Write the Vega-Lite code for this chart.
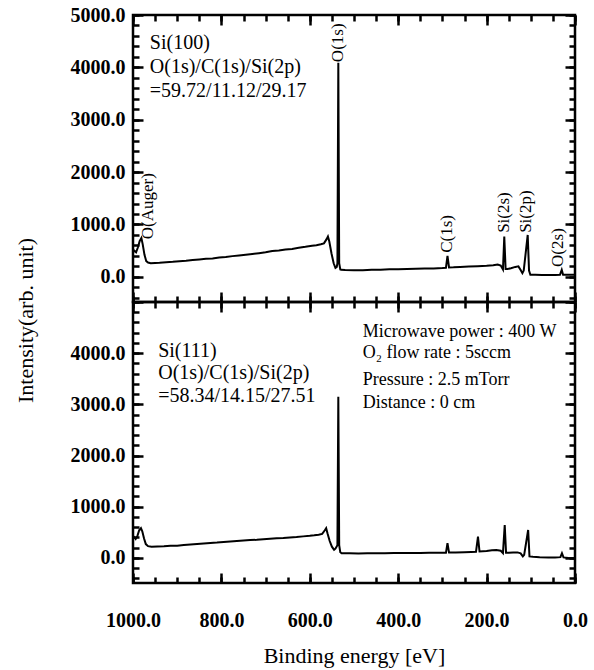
{
  "$schema": "https://vega.github.io/schema/vega-lite/v6.json",
  "background": "white",
  "padding": {"left": 12, "top": 3, "right": 10, "bottom": 5},
  "bounds": "flush",
  "spacing": 0,
  "config": {
    "font": "Liberation Serif",
    "view": {"stroke": "black", "strokeWidth": 2.5},
    "axis": {
      "grid": false,
      "domain": false,
      "zindex": 1,
      "labelColor": "black",
      "titleColor": "black",
      "labelFontSize": 20,
      "labelFontWeight": "bold",
      "titleFontSize": 22,
      "titleFontWeight": "normal",
      "labelFlush": false,
      "labelOverlap": false,
      "labelBound": false
    }
  },
  "datasets": {
    "si100": [
      {"E": 1000, "I": 470}, {"E": 997, "I": 500}, {"E": 993, "I": 470}, {"E": 989, "I": 560},
      {"E": 985, "I": 680}, {"E": 981, "I": 740}, {"E": 978, "I": 620}, {"E": 974, "I": 420},
      {"E": 970, "I": 300}, {"E": 966, "I": 275}, {"E": 960, "I": 262}, {"E": 950, "I": 266},
      {"E": 940, "I": 270}, {"E": 925, "I": 280}, {"E": 910, "I": 288}, {"E": 895, "I": 300},
      {"E": 880, "I": 308}, {"E": 865, "I": 322}, {"E": 850, "I": 333}, {"E": 835, "I": 346},
      {"E": 820, "I": 352}, {"E": 805, "I": 369}, {"E": 790, "I": 378}, {"E": 775, "I": 396},
      {"E": 760, "I": 408}, {"E": 745, "I": 422}, {"E": 730, "I": 438}, {"E": 715, "I": 453},
      {"E": 700, "I": 468}, {"E": 685, "I": 492}, {"E": 670, "I": 503}, {"E": 655, "I": 522},
      {"E": 640, "I": 533}, {"E": 625, "I": 556}, {"E": 610, "I": 574}, {"E": 595, "I": 596},
      {"E": 585, "I": 603}, {"E": 575, "I": 622}, {"E": 568, "I": 640}, {"E": 562, "I": 720},
      {"E": 559, "I": 770}, {"E": 556, "I": 680}, {"E": 551, "I": 450}, {"E": 546, "I": 260},
      {"E": 542, "I": 170}, {"E": 539, "I": 190}, {"E": 537.5, "I": 260}, {"E": 535.5, "I": 4090},
      {"E": 533.5, "I": 260}, {"E": 531, "I": 140}, {"E": 529, "I": 134}, {"E": 520, "I": 130},
      {"E": 500, "I": 126}, {"E": 480, "I": 128}, {"E": 460, "I": 135}, {"E": 440, "I": 137},
      {"E": 420, "I": 143}, {"E": 400, "I": 145}, {"E": 380, "I": 150}, {"E": 360, "I": 153},
      {"E": 340, "I": 158}, {"E": 320, "I": 162}, {"E": 300, "I": 168}, {"E": 292, "I": 172},
      {"E": 288.5, "I": 400}, {"E": 285, "I": 180}, {"E": 275, "I": 182}, {"E": 260, "I": 188},
      {"E": 240, "I": 196}, {"E": 220, "I": 204}, {"E": 200, "I": 212}, {"E": 185, "I": 222},
      {"E": 175, "I": 235}, {"E": 168, "I": 215}, {"E": 163, "I": 140}, {"E": 160, "I": 770},
      {"E": 157, "I": 150}, {"E": 153, "I": 150}, {"E": 145, "I": 165}, {"E": 135, "I": 190},
      {"E": 128, "I": 200}, {"E": 123, "I": 130}, {"E": 119, "I": 70}, {"E": 116, "I": 120},
      {"E": 107, "I": 800}, {"E": 104, "I": 120}, {"E": 101, "I": 40}, {"E": 90, "I": 38},
      {"E": 75, "I": 35}, {"E": 60, "I": 34}, {"E": 45, "I": 36}, {"E": 34, "I": 40},
      {"E": 30, "I": 134}, {"E": 27, "I": 40}, {"E": 15, "I": 38}, {"E": 0, "I": 38}
    ],
    "si111": [
      {"E": 1000, "I": 430}, {"E": 997, "I": 400}, {"E": 994, "I": 370}, {"E": 990, "I": 430},
      {"E": 986, "I": 540}, {"E": 982, "I": 580}, {"E": 979, "I": 520}, {"E": 975, "I": 380},
      {"E": 971, "I": 270}, {"E": 966, "I": 230}, {"E": 958, "I": 220}, {"E": 945, "I": 223},
      {"E": 930, "I": 227}, {"E": 915, "I": 236}, {"E": 900, "I": 240}, {"E": 885, "I": 251},
      {"E": 870, "I": 261}, {"E": 855, "I": 271}, {"E": 840, "I": 281}, {"E": 825, "I": 291},
      {"E": 810, "I": 299}, {"E": 795, "I": 311}, {"E": 780, "I": 321}, {"E": 765, "I": 331},
      {"E": 750, "I": 339}, {"E": 735, "I": 349}, {"E": 720, "I": 354}, {"E": 705, "I": 366},
      {"E": 690, "I": 374}, {"E": 675, "I": 384}, {"E": 660, "I": 391}, {"E": 645, "I": 401},
      {"E": 630, "I": 409}, {"E": 615, "I": 421}, {"E": 600, "I": 431}, {"E": 590, "I": 441},
      {"E": 580, "I": 454}, {"E": 572, "I": 470}, {"E": 566, "I": 540}, {"E": 563, "I": 580},
      {"E": 560, "I": 480}, {"E": 555, "I": 330}, {"E": 550, "I": 220}, {"E": 545, "I": 160},
      {"E": 542, "I": 180}, {"E": 537.5, "I": 250}, {"E": 535.5, "I": 3150}, {"E": 533.5, "I": 250},
      {"E": 531, "I": 110}, {"E": 528, "I": 91}, {"E": 510, "I": 90}, {"E": 490, "I": 88},
      {"E": 470, "I": 90}, {"E": 450, "I": 92}, {"E": 430, "I": 93}, {"E": 410, "I": 95},
      {"E": 390, "I": 95}, {"E": 370, "I": 97}, {"E": 350, "I": 98}, {"E": 330, "I": 100},
      {"E": 310, "I": 100}, {"E": 292, "I": 100}, {"E": 288.5, "I": 290}, {"E": 285, "I": 105},
      {"E": 270, "I": 106}, {"E": 250, "I": 110}, {"E": 235, "I": 115}, {"E": 224, "I": 120},
      {"E": 219.5, "I": 416}, {"E": 216, "I": 125}, {"E": 200, "I": 135}, {"E": 188, "I": 150},
      {"E": 178, "I": 155}, {"E": 168, "I": 140}, {"E": 163, "I": 95}, {"E": 159, "I": 644},
      {"E": 156, "I": 100}, {"E": 150, "I": 100}, {"E": 140, "I": 104}, {"E": 130, "I": 108},
      {"E": 123, "I": 90}, {"E": 118, "I": 30}, {"E": 115, "I": 60}, {"E": 106, "I": 546},
      {"E": 103, "I": 30}, {"E": 95, "I": 22}, {"E": 80, "I": 15}, {"E": 60, "I": 10},
      {"E": 45, "I": 8}, {"E": 33, "I": 15}, {"E": 29.5, "I": 91}, {"E": 26, "I": 10},
      {"E": 15, "I": 0}, {"E": 0, "I": -10}
    ],
    "peaks100": [
      {"E": 967, "I": 720, "label": "O(Auger)"},
      {"E": 536, "I": 4100, "label": "O(1s)"},
      {"E": 290, "I": 460, "label": "C(1s)"},
      {"E": 161, "I": 840, "label": "Si(2s)"},
      {"E": 111, "I": 840, "label": "Si(2p)"},
      {"E": 38, "I": 190, "label": "O(2s)"}
    ],
    "notes": [
      {"block": "a", "E": 962, "I": 4660, "text": "Si(100)\nO(1s)/C(1s)/Si(2p)\n=59.72/11.12/29.17"},
      {"block": "b", "E": 943, "I": 4240, "text": "Si(111)\nO(1s)/C(1s)/Si(2p)\n=58.34/14.15/27.51"},
      {"block": "c", "E": 480, "I": 4590, "text": "Microwave power : 400 W\nO₂ flow rate : 5sccm"},
      {"block": "d", "E": 480, "I": 3652, "text": "Pressure : 2.5 mTorr\nDistance : 0 cm"}
    ]
  },
  "vconcat": [
    {
      "width": 442,
      "height": 287,
      "layer": [
        {
          "data": {"name": "si100"},
          "mark": {"type": "line", "color": "black", "strokeWidth": 2},
          "encoding": {
            "x": {
              "field": "E", "type": "quantitative",
              "scale": {"domain": [0, 1000], "reverse": true, "nice": false, "zero": false},
              "axis": {"orient": "bottom", "title": null, "labels": false, "offset": -6, "tickSize": 6, "tickColor": "black", "tickWidth": 2.5, "tickCount": 25}
            },
            "y": {
              "field": "I", "type": "quantitative",
              "scale": {"domain": [-480, 5000], "nice": false, "zero": false},
              "axis": {
                "orient": "left", "title": null, "offset": -6, "tickSize": 6, "tickColor": "black", "tickWidth": 2.5, "labelPadding": 8, "tickCount": 27,
                "labelExpr": "datum.value % 1000 === 0 && datum.value >= 0 ? format(datum.value, '.1f') : ''"
              }
            }
          }
        },
        {
          "data": {"name": "peaks100"},
          "transform": [{"filter": "datum.E > 200"}],
          "mark": {"type": "text", "angle": 270, "align": "left", "baseline": "middle", "fontSize": 17, "color": "black"},
          "encoding": {
            "x": {
              "field": "E", "type": "quantitative",
              "scale": {"domain": [0, 1000], "reverse": true, "nice": false, "zero": false},
              "axis": {"orient": "top", "title": null, "labels": false, "offset": -6, "tickSize": 6, "tickColor": "black", "tickWidth": 2.5, "tickCount": 25}
            },
            "y": {
              "field": "I", "type": "quantitative",
              "scale": {"domain": [-480, 5000], "nice": false, "zero": false},
              "axis": {"orient": "right", "title": null, "labels": false, "offset": -6, "tickSize": 6, "tickColor": "black", "tickWidth": 2.5, "tickCount": 27}
            },
            "text": {"field": "label"}
          }
        },
        {
          "data": {"name": "peaks100"},
          "transform": [{"filter": "datum.E <= 200"}],
          "mark": {"type": "text", "angle": 270, "align": "left", "baseline": "middle", "fontSize": 17, "color": "black"},
          "encoding": {
            "x": {
              "field": "E", "type": "quantitative",
              "scale": {"domain": [0, 1000], "reverse": true, "nice": false, "zero": false},
              "axis": {"orient": "bottom", "title": null, "labels": false, "offset": -10, "tickSize": 10, "tickColor": "black", "tickWidth": 2.5, "tickCount": 5}
            },
            "y": {
              "field": "I", "type": "quantitative",
              "scale": {"domain": [-480, 5000], "nice": false, "zero": false},
              "axis": {"orient": "left", "title": null, "labels": false, "offset": -10, "tickSize": 10, "tickColor": "black", "tickWidth": 2.5, "tickCount": 5}
            },
            "text": {"field": "label"}
          }
        },
        {
          "data": {"name": "notes"},
          "transform": [{"filter": "datum.block === 'a'"}],
          "mark": {"type": "text", "align": "left", "baseline": "top", "fontSize": 20, "lineHeight": 24, "lineBreak": "\n", "color": "black"},
          "encoding": {
            "x": {
              "field": "E", "type": "quantitative",
              "scale": {"domain": [0, 1000], "reverse": true, "nice": false, "zero": false},
              "axis": {"orient": "top", "title": null, "labels": false, "offset": -10, "tickSize": 10, "tickColor": "black", "tickWidth": 2.5, "tickCount": 5}
            },
            "y": {
              "field": "I", "type": "quantitative",
              "scale": {"domain": [-480, 5000], "nice": false, "zero": false},
              "axis": {"orient": "right", "title": null, "labels": false, "offset": -10, "tickSize": 10, "tickColor": "black", "tickWidth": 2.5, "tickCount": 5}
            },
            "text": {"field": "text"}
          }
        }
      ],
      "resolve": {"axis": {"x": "independent", "y": "independent"}}
    },
    {
      "width": 442,
      "height": 281,
      "layer": [
        {
          "data": {"name": "si111"},
          "mark": {"type": "line", "color": "black", "strokeWidth": 2},
          "encoding": {
            "x": {
              "field": "E", "type": "quantitative",
              "scale": {"domain": [0, 1000], "reverse": true, "nice": false, "zero": false},
              "axis": {
                "orient": "bottom", "title": "Binding energy [eV]", "offset": -6, "tickSize": 6, "tickColor": "black", "tickWidth": 2.5, "tickCount": 25,
                "labelPadding": 27, "titlePadding": 15,
                "labelExpr": "datum.value % 200 === 0 ? format(datum.value, '.1f') : ''"
              }
            },
            "y": {
              "field": "I", "type": "quantitative",
              "scale": {"domain": [-490, 5000], "nice": false, "zero": false},
              "axis": {
                "orient": "left", "title": "Intensity(arb. unit)", "titleY": 18, "titlePadding": 33,
                "offset": -6, "tickSize": 6, "tickColor": "black", "tickWidth": 2.5, "labelPadding": 8, "tickCount": 27,
                "labelExpr": "datum.value % 1000 === 0 && datum.value >= 0 && datum.value < 5000 ? format(datum.value, '.1f') : ''"
              }
            }
          }
        },
        {
          "data": {"name": "notes"},
          "transform": [{"filter": "datum.block === 'b'"}],
          "mark": {"type": "text", "align": "left", "baseline": "top", "fontSize": 20, "lineHeight": 22.5, "lineBreak": "\n", "color": "black"},
          "encoding": {
            "x": {
              "field": "E", "type": "quantitative",
              "scale": {"domain": [0, 1000], "reverse": true, "nice": false, "zero": false},
              "axis": {"orient": "top", "title": null, "labels": false, "offset": -6, "tickSize": 6, "tickColor": "black", "tickWidth": 2.5, "tickCount": 25}
            },
            "y": {
              "field": "I", "type": "quantitative",
              "scale": {"domain": [-490, 5000], "nice": false, "zero": false},
              "axis": {"orient": "right", "title": null, "labels": false, "offset": -6, "tickSize": 6, "tickColor": "black", "tickWidth": 2.5, "tickCount": 27}
            },
            "text": {"field": "text"}
          }
        },
        {
          "data": {"name": "notes"},
          "transform": [{"filter": "datum.block === 'c'"}],
          "mark": {"type": "text", "align": "left", "baseline": "top", "fontSize": 18, "lineHeight": 21, "lineBreak": "\n", "color": "black"},
          "encoding": {
            "x": {
              "field": "E", "type": "quantitative",
              "scale": {"domain": [0, 1000], "reverse": true, "nice": false, "zero": false},
              "axis": {"orient": "bottom", "title": null, "labels": false, "offset": -10, "tickSize": 10, "tickColor": "black", "tickWidth": 2.5, "tickCount": 5}
            },
            "y": {
              "field": "I", "type": "quantitative",
              "scale": {"domain": [-490, 5000], "nice": false, "zero": false},
              "axis": {"orient": "left", "title": null, "labels": false, "offset": -10, "tickSize": 10, "tickColor": "black", "tickWidth": 2.5, "tickCount": 5}
            },
            "text": {"field": "text"}
          }
        },
        {
          "data": {"name": "notes"},
          "transform": [{"filter": "datum.block === 'd'"}],
          "mark": {"type": "text", "align": "left", "baseline": "top", "fontSize": 18, "lineHeight": 23, "lineBreak": "\n", "color": "black"},
          "encoding": {
            "x": {
              "field": "E", "type": "quantitative",
              "scale": {"domain": [0, 1000], "reverse": true, "nice": false, "zero": false},
              "axis": {"orient": "top", "title": null, "labels": false, "offset": -10, "tickSize": 10, "tickColor": "black", "tickWidth": 2.5, "tickCount": 5}
            },
            "y": {
              "field": "I", "type": "quantitative",
              "scale": {"domain": [-490, 5000], "nice": false, "zero": false},
              "axis": {"orient": "right", "title": null, "labels": false, "offset": -10, "tickSize": 10, "tickColor": "black", "tickWidth": 2.5, "tickCount": 5}
            },
            "text": {"field": "text"}
          }
        }
      ],
      "resolve": {"axis": {"x": "independent", "y": "independent"}}
    }
  ]
}
